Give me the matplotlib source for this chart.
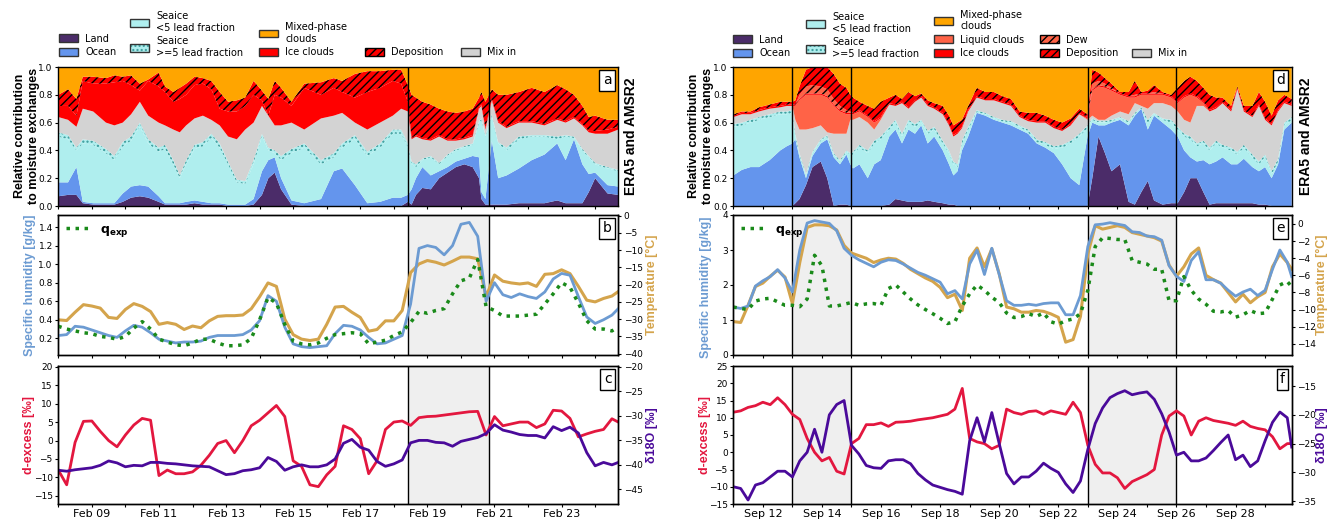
"""
Moisture-source contributions (ERA5 and AMSR2) with humidity,
temperature and stable water isotope time series for the
February case (left column) and the September case (right column).
"""

import numpy as np
import pandas as pd
import matplotlib.pyplot as plt
import matplotlib.dates as mdates
from matplotlib.patches import Patch

# ==========================================================
# Data: February case
# ==========================================================

# stacked contributions, cumulative tops of each layer (day of month)
feb_stack_day = [8.00, 8.29, 8.54, 8.73, 9.04, 9.42, 9.67, 9.92, 10.17, 10.43,
                 10.68, 10.99, 11.18, 11.43, 11.62, 11.81, 12.06, 12.31, 12.56, 12.81,
                 13.06, 13.32, 13.57, 13.82, 14.07, 14.26, 14.45, 14.64, 14.95, 15.33,
                 15.83, 16.21, 16.46, 16.84, 17.21, 17.59, 17.97, 18.22, 18.42, 18.53,
                 18.66, 18.85, 19.10, 19.35, 19.60, 19.85, 20.10, 20.35, 20.54, 20.61,
                 20.73, 20.92, 21.11, 21.36, 21.73, 22.11, 22.49, 22.87, 23.12, 23.37,
                 23.62, 23.81, 24.00, 24.37, 24.69]
feb_land = [0.07, 0.08, 0.08, 0.02, 0.01, 0.01, 0.01, 0.03, 0.06, 0.07,
            0.06, 0.03, 0.01, 0.01, 0.01, 0.01, 0.02, 0.01, 0.01, 0.01,
            0.00, 0.00, 0.00, 0.01, 0.08, 0.20, 0.24, 0.12, 0.01, 0.00,
            0.00, 0.00, 0.00, 0.00, 0.00, 0.00, 0.00, 0.00, 0.03, 0.01,
            0.08, 0.13, 0.12, 0.20, 0.24, 0.28, 0.30, 0.28, 0.20, 0.05,
            0.01, 0.01, 0.01, 0.01, 0.02, 0.02, 0.02, 0.04, 0.02, 0.02,
            0.02, 0.10, 0.20, 0.09, 0.08]
feb_ocean = [0.17, 0.17, 0.28, 0.03, 0.02, 0.02, 0.02, 0.09, 0.14, 0.15,
             0.14, 0.07, 0.02, 0.02, 0.02, 0.03, 0.04, 0.03, 0.02, 0.02,
             0.01, 0.01, 0.01, 0.05, 0.25, 0.33, 0.35, 0.20, 0.04, 0.02,
             0.05, 0.25, 0.27, 0.15, 0.02, 0.03, 0.06, 0.06, 0.08, 0.12,
             0.20, 0.28, 0.22, 0.25, 0.28, 0.32, 0.34, 0.36, 0.35, 0.10,
             0.05, 0.47, 0.20, 0.22, 0.27, 0.33, 0.37, 0.45, 0.33, 0.48,
             0.30, 0.23, 0.24, 0.15, 0.14]
feb_sea_lt5 = [0.50, 0.48, 0.40, 0.45, 0.44, 0.38, 0.33, 0.43, 0.47, 0.57,
               0.45, 0.39, 0.41, 0.30, 0.20, 0.30, 0.41, 0.43, 0.49, 0.42,
               0.30, 0.17, 0.16, 0.30, 0.50, 0.40, 0.38, 0.33, 0.38, 0.42,
               0.30, 0.35, 0.42, 0.48, 0.36, 0.42, 0.52, 0.52, 0.42, 0.30,
               0.28, 0.33, 0.35, 0.30, 0.36, 0.40, 0.42, 0.44, 0.60, 0.62,
               0.50, 0.65, 0.45, 0.40, 0.48, 0.50, 0.50, 0.48, 0.50, 0.49,
               0.40, 0.35, 0.30, 0.27, 0.25]
feb_sea_ge5 = [0.53, 0.51, 0.42, 0.48, 0.47, 0.41, 0.36, 0.46, 0.50, 0.60,
               0.48, 0.42, 0.44, 0.33, 0.22, 0.33, 0.44, 0.46, 0.52, 0.45,
               0.32, 0.19, 0.18, 0.33, 0.52, 0.42, 0.40, 0.36, 0.41, 0.45,
               0.33, 0.38, 0.45, 0.51, 0.39, 0.45, 0.55, 0.55, 0.45, 0.32,
               0.30, 0.34, 0.36, 0.31, 0.37, 0.41, 0.43, 0.45, 0.61, 0.63,
               0.51, 0.66, 0.46, 0.42, 0.50, 0.51, 0.51, 0.50, 0.51, 0.50,
               0.41, 0.36, 0.31, 0.28, 0.26]
feb_mixin = [0.64, 0.62, 0.57, 0.70, 0.68, 0.60, 0.58, 0.60, 0.66, 0.75,
             0.65, 0.60, 0.58, 0.55, 0.53, 0.58, 0.63, 0.65, 0.62, 0.58,
             0.50, 0.48, 0.55, 0.60, 0.72, 0.65, 0.58, 0.58, 0.60, 0.55,
             0.63, 0.65, 0.67, 0.60, 0.55, 0.60, 0.65, 0.70, 0.68, 0.48,
             0.50, 0.48, 0.47, 0.50, 0.47, 0.47, 0.48, 0.50, 0.70, 0.72,
             0.55, 0.76, 0.60, 0.56, 0.60, 0.60, 0.58, 0.62, 0.60, 0.63,
             0.58, 0.53, 0.52, 0.52, 0.55]
feb_ice = [0.72, 0.72, 0.65, 0.90, 0.88, 0.88, 0.89, 0.90, 0.87, 0.83,
           0.90, 0.86, 0.82, 0.75, 0.77, 0.80, 0.87, 0.88, 0.84, 0.70,
           0.68, 0.68, 0.72, 0.80, 0.76, 0.65, 0.80, 0.78, 0.72, 0.85,
           0.80, 0.85, 0.82, 0.78, 0.82, 0.85, 0.90, 0.88, 0.75, 0.49,
           0.51, 0.49, 0.48, 0.51, 0.48, 0.48, 0.49, 0.51, 0.71, 0.73,
           0.56, 0.77, 0.61, 0.57, 0.61, 0.61, 0.59, 0.63, 0.61, 0.64,
           0.59, 0.54, 0.54, 0.55, 0.57]
feb_depo = [0.80, 0.84, 0.77, 0.93, 0.93, 0.92, 0.94, 0.93, 0.94, 0.88,
            0.91, 0.96, 0.86, 0.82, 0.85, 0.88, 0.93, 0.92, 0.90, 0.82,
            0.75, 0.76, 0.78, 0.90, 0.83, 0.77, 0.90, 0.85, 0.75, 0.88,
            0.89, 0.92, 0.90, 0.95, 0.97, 0.97, 0.98, 0.98, 0.87, 0.80,
            0.78, 0.75, 0.73, 0.70, 0.68, 0.67, 0.68, 0.70, 0.78, 0.82,
            0.75, 0.84, 0.80, 0.80, 0.82, 0.85, 0.82, 0.87, 0.84, 0.80,
            0.72, 0.64, 0.65, 0.62, 0.62]

# time series (day of month)
feb_day = [8.00, 8.25, 8.50, 8.75, 9.00, 9.25, 9.50, 9.75, 10.00, 10.25,
           10.50, 10.75, 11.00, 11.25, 11.50, 11.75, 12.00, 12.25, 12.50, 12.75,
           13.00, 13.25, 13.50, 13.75, 14.00, 14.25, 14.50, 14.75, 15.00, 15.25,
           15.50, 15.75, 16.00, 16.25, 16.50, 16.75, 17.00, 17.25, 17.50, 17.75,
           18.00, 18.25, 18.50, 18.75, 19.00, 19.25, 19.50, 19.75, 20.00, 20.25,
           20.50, 20.75, 21.00, 21.25, 21.50, 21.75, 22.00, 22.25, 22.50, 22.75,
           23.00, 23.25, 23.50, 23.75, 24.00, 24.25, 24.50, 24.69]
feb_q = [0.23, 0.24, 0.33, 0.32, 0.29, 0.26, 0.23, 0.21, 0.28, 0.34,
         0.32, 0.26, 0.19, 0.17, 0.15, 0.16, 0.16, 0.17, 0.21, 0.23,
         0.23, 0.23, 0.24, 0.29, 0.39, 0.66, 0.60, 0.32, 0.14, 0.11,
         0.10, 0.11, 0.12, 0.25, 0.34, 0.33, 0.29, 0.21, 0.14, 0.15,
         0.19, 0.23, 0.57, 1.17, 1.20, 1.18, 1.10, 1.20, 1.43, 1.45,
         1.30, 0.60, 0.80, 0.67, 0.64, 0.68, 0.65, 0.63, 0.70, 0.84,
         0.90, 0.88, 0.65, 0.43, 0.36, 0.40, 0.45, 0.52]
feb_temp = [-30.2, -30.4, -28.0, -25.8, -26.2, -26.8, -29.5, -29.8, -27.2, -25.5,
            -26.3, -27.8, -31.5, -31.0, -31.5, -33.0, -32.0, -32.5, -30.5, -29.2,
            -29.0, -29.0, -28.8, -27.0, -23.5, -19.5, -20.5, -30.0, -34.5, -35.8,
            -36.2, -35.8, -31.5, -26.5, -26.3, -28.0, -29.5, -33.5, -33.0, -30.5,
            -30.5, -27.5, -16.5, -14.0, -13.0, -13.5, -14.3, -13.2, -12.0, -12.0,
            -12.5, -23.5, -17.2, -19.0, -19.5, -19.8, -19.5, -20.5, -17.0, -16.8,
            -15.7, -16.8, -20.5, -24.5, -25.0, -24.0, -23.3, -22.0]
feb_qexp = [0.33, 0.30, 0.28, 0.26, 0.25, 0.22, 0.21, 0.19, 0.22, 0.31,
            0.38, 0.30, 0.19, 0.16, 0.13, 0.12, 0.15, 0.19, 0.19, 0.15,
            0.12, 0.12, 0.13, 0.20, 0.40, 0.64, 0.58, 0.35, 0.17, 0.14,
            0.13, 0.15, 0.20, 0.24, 0.25, 0.26, 0.25, 0.14, 0.16, 0.18,
            0.23, 0.27, 0.37, 0.49, 0.47, 0.50, 0.52, 0.68, 0.82, 0.85,
            1.05, 0.54, 0.50, 0.44, 0.44, 0.44, 0.45, 0.46, 0.57, 0.68,
            0.80, 0.75, 0.58, 0.39, 0.30, 0.30, 0.28, 0.32]
feb_dexcess = [-8.0, -12.0, -0.5, 5.2, 5.3, 2.5, 0.0, -1.7, 1.5, 4.2,
               6.0, 5.5, -9.5, -8.0, -9.0, -9.0, -8.5, -6.7, -4.0, -0.8,
               0.0, -3.3, 0.0, 4.0, 5.5, 7.5, 9.5, 6.5, -5.5, -7.0,
               -12.0, -12.5, -9.3, -7.0, 4.0, 3.0, 0.5, -9.0, -5.5, 3.0,
               5.0, 5.3, 4.1, 6.2, 6.5, 6.6, 6.9, 7.2, 7.5, 7.8,
               7.9, 1.5, 6.5, 4.0, 4.5, 5.0, 5.0, 3.5, 4.5, 8.2,
               8.0, 6.0, 1.0, 1.8, 2.5, 3.0, 5.9, 5.0]
feb_d18o = [-41.1, -41.3, -41.0, -40.8, -40.6, -40.1, -39.2, -39.6, -40.4, -40.1,
            -40.2, -39.5, -39.5, -39.7, -39.8, -40.0, -40.2, -40.3, -40.4, -41.2,
            -42.0, -41.8, -41.2, -41.0, -40.6, -38.5, -39.3, -41.1, -40.4, -40.0,
            -40.4, -40.4, -40.0, -38.8, -35.6, -34.8, -36.4, -37.0, -39.3, -40.3,
            -39.8, -39.0, -35.5, -35.0, -35.0, -35.4, -35.5, -36.2, -35.2, -34.8,
            -34.4, -33.6, -31.8, -32.9, -33.3, -33.8, -34.0, -34.0, -34.5, -32.2,
            -33.0, -32.3, -33.5, -37.5, -40.2, -39.5, -40.0, -39.5]

feb_xlim = (8.0, 24.69)
feb_events = [(18.43, 20.85)]

# ==========================================================
# Data: September case
# ==========================================================

sep_stack_day = [11.00, 11.29, 11.58, 11.87, 12.23, 12.59, 12.81, 13.00, 13.10, 13.24,
                 13.46, 13.68, 13.96, 14.18, 14.40, 14.61, 14.83, 14.96, 15.05, 15.27,
                 15.55, 15.77, 15.99, 16.28, 16.49, 16.71, 16.93, 17.15, 17.36, 17.58,
                 17.80, 18.09, 18.30, 18.45, 18.59, 18.74, 18.95, 19.24, 19.53, 19.82,
                 20.11, 20.40, 20.69, 20.98, 21.27, 21.56, 21.85, 22.13, 22.42, 22.71,
                 22.99, 23.15, 23.36, 23.58, 23.80, 24.09, 24.38, 24.59, 24.81, 25.03,
                 25.24, 25.53, 25.82, 26.04, 26.26, 26.47, 26.69, 26.91, 27.12, 27.34,
                 27.56, 27.85, 28.06, 28.28, 28.57, 28.79, 29.00, 29.22, 29.44, 29.65,
                 29.90]
sep_land = [0.00, 0.00, 0.00, 0.00, 0.00, 0.00, 0.00, 0.00, 0.02, 0.05,
            0.15, 0.28, 0.32, 0.20, 0.00, 0.01, 0.01, 0.00, 0.00, 0.00,
            0.00, 0.00, 0.00, 0.01, 0.05, 0.04, 0.03, 0.03, 0.03, 0.04,
            0.03, 0.02, 0.01, 0.01, 0.00, 0.00, 0.00, 0.00, 0.00, 0.00,
            0.00, 0.00, 0.00, 0.00, 0.00, 0.00, 0.00, 0.00, 0.00, 0.00,
            0.00, 0.20, 0.50, 0.38, 0.25, 0.30, 0.03, 0.01, 0.10, 0.18,
            0.04, 0.01, 0.02, 0.02, 0.10, 0.20, 0.20, 0.10, 0.01, 0.02,
            0.02, 0.02, 0.02, 0.02, 0.02, 0.01, 0.01, 0.00, 0.00, 0.00,
            0.00]
sep_ocean = [0.22, 0.26, 0.28, 0.28, 0.33, 0.40, 0.43, 0.45, 0.48, 0.35,
             0.20, 0.36, 0.45, 0.48, 0.35, 0.30, 0.37, 0.30, 0.27, 0.30,
             0.20, 0.30, 0.33, 0.50, 0.55, 0.45, 0.55, 0.52, 0.58, 0.45,
             0.50, 0.40, 0.30, 0.22, 0.25, 0.40, 0.50, 0.67, 0.65, 0.62,
             0.60, 0.58, 0.55, 0.52, 0.45, 0.42, 0.38, 0.30, 0.20, 0.15,
             0.50, 0.60, 0.58, 0.58, 0.60, 0.62, 0.58, 0.65, 0.70, 0.55,
             0.65, 0.60, 0.55, 0.50, 0.40, 0.35, 0.32, 0.33, 0.30, 0.32,
             0.35, 0.30, 0.30, 0.34, 0.28, 0.25, 0.28, 0.20, 0.30, 0.55,
             0.60]
sep_sea_lt5 = [0.57, 0.58, 0.60, 0.62, 0.64, 0.66, 0.66, 0.67, 0.50, 0.37,
               0.22, 0.38, 0.47, 0.50, 0.37, 0.32, 0.39, 0.37, 0.37, 0.42,
               0.38, 0.45, 0.48, 0.55, 0.60, 0.50, 0.60, 0.57, 0.60, 0.52,
               0.55, 0.45, 0.38, 0.30, 0.28, 0.45, 0.55, 0.68, 0.66, 0.63,
               0.61, 0.60, 0.57, 0.53, 0.46, 0.44, 0.41, 0.42, 0.45, 0.50,
               0.56, 0.62, 0.60, 0.60, 0.61, 0.63, 0.60, 0.66, 0.70, 0.60,
               0.66, 0.62, 0.60, 0.55, 0.50, 0.48, 0.43, 0.45, 0.40, 0.45,
               0.42, 0.40, 0.37, 0.42, 0.35, 0.30, 0.35, 0.23, 0.32, 0.58,
               0.62]
sep_sea_ge5 = [0.59, 0.60, 0.62, 0.64, 0.66, 0.68, 0.68, 0.69, 0.52, 0.38,
               0.23, 0.39, 0.48, 0.51, 0.38, 0.33, 0.40, 0.38, 0.39, 0.44,
               0.40, 0.47, 0.50, 0.57, 0.62, 0.52, 0.62, 0.59, 0.62, 0.54,
               0.57, 0.47, 0.40, 0.32, 0.30, 0.47, 0.57, 0.69, 0.67, 0.64,
               0.62, 0.61, 0.58, 0.55, 0.48, 0.46, 0.43, 0.44, 0.47, 0.52,
               0.58, 0.63, 0.61, 0.61, 0.62, 0.64, 0.61, 0.67, 0.71, 0.62,
               0.67, 0.63, 0.62, 0.57, 0.52, 0.50, 0.45, 0.47, 0.42, 0.47,
               0.44, 0.42, 0.39, 0.44, 0.37, 0.32, 0.37, 0.25, 0.34, 0.60,
               0.64]
sep_mixin = [0.64, 0.66, 0.66, 0.68, 0.70, 0.71, 0.72, 0.72, 0.62, 0.55,
             0.55, 0.56, 0.58, 0.53, 0.52, 0.52, 0.52, 0.62, 0.62, 0.64,
             0.60, 0.55, 0.62, 0.73, 0.72, 0.74, 0.70, 0.75, 0.78, 0.72,
             0.70, 0.66, 0.58, 0.50, 0.52, 0.56, 0.68, 0.78, 0.76, 0.76,
             0.74, 0.72, 0.64, 0.61, 0.60, 0.60, 0.56, 0.54, 0.58, 0.66,
             0.62, 0.65, 0.62, 0.62, 0.65, 0.68, 0.66, 0.74, 0.72, 0.70,
             0.74, 0.74, 0.72, 0.68, 0.62, 0.60, 0.72, 0.72, 0.68, 0.70,
             0.74, 0.68, 0.84, 0.68, 0.64, 0.72, 0.62, 0.58, 0.68, 0.74,
             0.72]
sep_liquid = [0.64, 0.66, 0.66, 0.68, 0.70, 0.71, 0.72, 0.72, 0.72, 0.76,
              0.80, 0.80, 0.80, 0.78, 0.72, 0.68, 0.66, 0.66, 0.66, 0.68,
              0.64, 0.60, 0.63, 0.73, 0.72, 0.74, 0.70, 0.75, 0.78, 0.72,
              0.70, 0.66, 0.58, 0.50, 0.52, 0.56, 0.68, 0.78, 0.76, 0.76,
              0.74, 0.72, 0.64, 0.61, 0.60, 0.60, 0.56, 0.54, 0.58, 0.66,
              0.63, 0.83, 0.86, 0.85, 0.83, 0.80, 0.78, 0.78, 0.80, 0.80,
              0.80, 0.80, 0.78, 0.74, 0.78, 0.80, 0.78, 0.74, 0.68, 0.70,
              0.74, 0.68, 0.84, 0.68, 0.64, 0.72, 0.62, 0.58, 0.68, 0.74,
              0.72]
sep_ice = [0.65, 0.67, 0.67, 0.69, 0.71, 0.72, 0.73, 0.73, 0.73, 0.77,
           0.81, 0.81, 0.81, 0.79, 0.73, 0.69, 0.67, 0.67, 0.67, 0.69,
           0.65, 0.61, 0.64, 0.74, 0.73, 0.75, 0.71, 0.76, 0.79, 0.73,
           0.71, 0.67, 0.59, 0.51, 0.53, 0.57, 0.69, 0.79, 0.77, 0.77,
           0.75, 0.73, 0.65, 0.62, 0.61, 0.61, 0.57, 0.55, 0.59, 0.67,
           0.64, 0.84, 0.87, 0.86, 0.84, 0.81, 0.79, 0.79, 0.81, 0.81,
           0.81, 0.81, 0.79, 0.75, 0.79, 0.81, 0.79, 0.75, 0.69, 0.71,
           0.75, 0.69, 0.85, 0.69, 0.65, 0.73, 0.63, 0.59, 0.69, 0.75,
           0.73]
sep_dew = [0.65, 0.67, 0.67, 0.69, 0.71, 0.72, 0.73, 0.73, 0.73, 0.80,
           0.86, 0.87, 0.86, 0.84, 0.77, 0.72, 0.69, 0.68, 0.67, 0.69,
           0.65, 0.61, 0.64, 0.74, 0.73, 0.75, 0.71, 0.76, 0.79, 0.73,
           0.71, 0.67, 0.59, 0.51, 0.53, 0.57, 0.69, 0.79, 0.77, 0.77,
           0.75, 0.73, 0.65, 0.62, 0.61, 0.61, 0.57, 0.55, 0.59, 0.67,
           0.64, 0.88, 0.90, 0.88, 0.85, 0.81, 0.79, 0.80, 0.81, 0.81,
           0.82, 0.81, 0.79, 0.75, 0.79, 0.81, 0.79, 0.75, 0.69, 0.71,
           0.75, 0.69, 0.85, 0.69, 0.65, 0.73, 0.63, 0.59, 0.69, 0.75,
           0.73]
sep_depo = [0.66, 0.68, 0.68, 0.71, 0.73, 0.75, 0.75, 0.75, 0.76, 0.86,
            0.98, 1.00, 1.00, 1.00, 0.95, 0.88, 0.85, 0.80, 0.78, 0.75,
            0.72, 0.70, 0.75, 0.78, 0.80, 0.77, 0.82, 0.79, 0.81, 0.76,
            0.74, 0.72, 0.65, 0.58, 0.60, 0.62, 0.72, 0.85, 0.82, 0.82,
            0.79, 0.77, 0.68, 0.67, 0.67, 0.65, 0.62, 0.60, 0.63, 0.70,
            0.66, 0.98, 0.96, 0.92, 0.88, 0.82, 0.82, 0.90, 0.82, 0.83,
            0.87, 0.82, 0.80, 0.85, 0.90, 0.93, 0.90, 0.85, 0.80, 0.78,
            0.78, 0.72, 0.86, 0.72, 0.72, 0.82, 0.75, 0.65, 0.76, 0.80,
            0.77]

sep_day = [11.00, 11.25, 11.50, 11.75, 12.00, 12.25, 12.50, 12.75, 13.00, 13.25,
           13.50, 13.75, 14.00, 14.25, 14.50, 14.75, 15.00, 15.25, 15.50, 15.75,
           16.00, 16.25, 16.50, 16.75, 17.00, 17.25, 17.50, 17.75, 18.00, 18.25,
           18.50, 18.75, 19.00, 19.25, 19.50, 19.75, 20.00, 20.25, 20.50, 20.75,
           21.00, 21.25, 21.50, 21.75, 22.00, 22.25, 22.50, 22.75, 23.00, 23.25,
           23.50, 23.75, 24.00, 24.25, 24.50, 24.75, 25.00, 25.25, 25.50, 25.75,
           26.00, 26.25, 26.50, 26.75, 27.00, 27.25, 27.50, 27.75, 28.00, 28.25,
           28.50, 28.75, 29.00, 29.25, 29.50, 29.75, 29.90]
sep_q = [1.37, 1.33, 1.40, 1.97, 2.12, 2.24, 2.44, 2.20, 1.80, 3.00,
         3.77, 3.84, 3.80, 3.76, 3.55, 3.05, 2.85, 2.72, 2.62, 2.52,
         2.65, 2.72, 2.70, 2.60, 2.48, 2.36, 2.28, 2.18, 2.08, 1.75,
         1.84, 1.60, 2.60, 3.00, 2.30, 3.05, 2.30, 1.55, 1.42, 1.42,
         1.45, 1.42, 1.47, 1.49, 1.49, 1.15, 1.15, 1.70, 3.10, 3.72,
         3.74, 3.78, 3.74, 3.70, 3.52, 3.50, 3.40, 3.38, 3.28, 2.55,
         2.25, 2.10, 2.70, 2.95, 2.15, 2.15, 2.05, 1.85, 1.68, 1.80,
         1.88, 1.70, 1.85, 2.45, 3.00, 2.65, 2.24]
sep_temp = [-11.4, -11.5, -9.5, -7.3, -6.9, -6.1, -5.4, -6.2, -9.3, -4.5,
            -0.4, -0.1, -0.1, -0.2, -0.7, -2.5, -3.4, -3.7, -4.0, -4.5,
            -4.2, -4.0, -4.1, -4.6, -5.3, -5.8, -6.3, -6.7, -7.4, -8.6,
            -8.2, -10.1, -4.0, -2.8, -5.0, -2.9, -5.8, -9.7, -9.9, -10.3,
            -10.3, -10.1, -10.2, -10.5, -10.9, -13.8, -13.5, -10.8, -3.5, -0.2,
            -0.6, -0.4, -0.2, -0.4, -1.0, -1.2, -1.4, -1.6, -2.0, -4.8,
            -6.1, -5.0, -3.5, -2.8, -6.0, -6.5, -6.9, -8.0, -9.1, -8.2,
            -9.2, -8.5, -8.0, -5.0, -3.5, -4.5, -5.3]
sep_qexp = [1.37, 1.33, 1.30, 1.54, 1.60, 1.62, 1.52, 1.42, 1.42, 1.38,
            1.60, 2.85, 2.55, 1.40, 1.40, 1.45, 1.50, 1.42, 1.46, 1.47,
            1.42, 1.90, 2.00, 1.80, 1.60, 1.43, 1.30, 1.18, 1.05, 0.90,
            0.95, 1.40, 1.75, 2.00, 1.85, 1.65, 1.50, 1.20, 1.07, 1.10,
            1.18, 1.10, 1.20, 0.95, 0.88, 0.98, 1.03, 1.18, 1.85, 3.10,
            3.35, 3.33, 3.30, 3.30, 2.70, 2.65, 2.60, 2.45, 2.45, 1.55,
            1.55, 2.24, 1.85, 1.60, 1.45, 1.25, 1.23, 1.27, 1.08, 1.15,
            1.27, 1.18, 1.20, 1.60, 2.00, 2.10, 1.95]
sep_dexcess = [11.6, 12.0, 13.0, 13.5, 14.5, 13.8, 15.8, 13.8, 11.0, 9.5,
               4.0, 0.0, -2.5, -1.5, -5.5, -6.3, 2.5, 4.0, 8.0, 8.0,
               8.5, 7.5, 8.7, 8.8, 9.0, 9.4, 9.7, 10.0, 10.5, 11.0,
               12.5, 18.5, 4.0, 3.0, 2.5, 1.0, 2.0, 12.5, 11.5, 11.0,
               11.8, 12.0, 11.0, 12.0, 11.5, 11.0, 14.5, 11.5, 2.0, -3.5,
               -6.0, -6.0, -7.4, -10.5, -8.5, -7.5, -6.5, -5.0, 5.0, 10.5,
               12.0, 10.5, 5.0, 9.0, 10.0, 9.2, 8.8, 8.4, 7.8, 9.0,
               7.5, 6.9, 6.5, 4.5, 1.0, 2.5, 2.5]
sep_d18o = [-32.5, -32.8, -34.8, -32.2, -31.8, -30.8, -29.8, -29.8, -30.8, -28.0,
            -26.5, -22.5, -26.5, -20.0, -18.2, -17.5, -25.3, -26.8, -28.8, -29.2,
            -29.3, -28.0, -27.8, -27.8, -28.5, -30.2, -31.3, -32.2, -32.6, -33.0,
            -33.3, -33.8, -24.5, -20.5, -24.7, -19.6, -25.0, -30.2, -32.0, -30.8,
            -30.8, -29.8, -28.4, -29.3, -30.0, -32.0, -33.5, -31.5, -26.0, -21.5,
            -18.8, -17.0, -16.3, -15.8, -16.5, -16.2, -16.0, -17.3, -19.8, -23.0,
            -27.0, -26.5, -28.0, -28.0, -27.5, -26.2, -24.8, -23.5, -27.8, -27.0,
            -29.0, -28.0, -24.5, -21.3, -19.5, -20.5, -25.6]

sep_xlim = (11.0, 29.9)
sep_events = [(13.0, 15.0), (23.0, 26.0)]

# ==========================================================
# Style
# ==========================================================

W, H = 1329, 519

C_LAND = "#4b2c69"
C_OCEAN = "#6495ed"
C_SEA = "#afeeee"
C_DOTS = "#3a9a9a"
C_MIXPH = "#ffa500"
C_LIQ = "#ff6347"
C_ICE = "#ff0000"
C_MIXIN = "#d3d3d3"

C_Q = "#6c9bd2"
C_T = "#d4a44c"
C_QEXP = "#1a8a1a"
C_DX = "#e3173f"
C_D18O = "#4a0a9a"
C_SHADE = "#efefef"

HATCH = "////"
plt.rcParams["hatch.linewidth"] = 1.0
plt.rcParams["axes.linewidth"] = 1.0

YTICK = dict(labelsize=6.5, length=2.5, width=0.8, pad=1.5)

fig = plt.figure(figsize=(W / 100, H / 100), dpi=100)


def to_dates(days, month):
    days = np.asarray(days, dtype=float)
    return pd.Timestamp(2020, month, 1) + pd.to_timedelta(days - 1, unit="D")


def px_axes(x0, x1, y0, y1):
    # axes from pixel box (top-left origin)
    return fig.add_axes([x0 / W, 1 - y1 / H, (x1 - x0) / W, (y1 - y0) / H])


def side_label(x_px, y_px, text, color="black", size=9.0):
    fig.text(x_px / W, 1 - y_px / H, text, rotation=90, ha="center",
             va="center", color=color, fontsize=size, fontweight="bold",
             family="Liberation Sans", linespacing=1.15)


def panel_letter(ax, letter):
    ax.text(0.988, 0.955, letter, transform=ax.transAxes, ha="right",
            va="top", fontsize=10, zorder=20,
            bbox=dict(boxstyle="square,pad=0.25", fc="white", ec="black", lw=1))


def format_time_axis(ax, month, xlim, show_labels):
    ax.set_xlim(to_dates([xlim[0]], month)[0], to_dates([xlim[1]], month)[0])
    if month == 2:
        major = mdates.DayLocator(bymonthday=range(1, 32, 2))
    else:
        major = mdates.DayLocator(bymonthday=range(2, 32, 2))
    ax.xaxis.set_major_locator(major)
    ax.xaxis.set_minor_locator(mdates.DayLocator())
    ax.xaxis.set_major_formatter(mdates.DateFormatter("%b %d"))
    ax.tick_params(axis="x", which="both", length=2.5, width=0.8, pad=1.0,
                   labelsize=8, labelbottom=show_labels)


def draw_stack(ax, days, month, layers):
    t = to_dates(days, month)
    tops = np.maximum.accumulate(np.vstack([lay[0] for lay in layers]), axis=0)
    tops = np.clip(tops, 0, 1)
    lower = np.zeros(len(t))
    for top, (_, fc, ec, hatch) in zip(tops, layers):
        ax.fill_between(t, lower, top, facecolor=fc, edgecolor=ec,
                        hatch=hatch, linewidth=0)
        lower = top
    ax.fill_between(t, lower, 1.0, facecolor=C_MIXPH, linewidth=0)
    ax.set_ylim(0, 1)
    ax.set_yticks(np.arange(0, 1.01, 0.2))
    ax.tick_params(axis="y", **YTICK)


def column_legend(entries, x_px, y_px):
    handles = [e[0] for e in entries]
    labels = [e[1] for e in entries]
    fig.legend(handles, labels, loc="lower left",
               bbox_to_anchor=(x_px / W, 1 - y_px / H),
               frameon=False, fontsize=7, borderpad=0, borderaxespad=0,
               handlelength=2.0, handleheight=0.85, handletextpad=0.7,
               labelspacing=0.35)


# ==========================================================
# Column geometry (pixels)
# ==========================================================

cols = {
    "feb": (58.3, 618.3),
    "sep": (733.3, 1291.7),
}
rows = [(67, 206), (215, 355), (366, 504)]

# ==========================================================
# Panels
# ==========================================================

feb_layers = [
    (feb_land, C_LAND, "none", None),
    (feb_ocean, C_OCEAN, "none", None),
    (feb_sea_lt5, C_SEA, "none", None),
    (feb_sea_ge5, C_SEA, C_DOTS, "...."),
    (feb_mixin, C_MIXIN, "none", None),
    (feb_ice, C_ICE, "none", None),
    (feb_depo, C_ICE, "black", HATCH),
]
sep_layers = [
    (sep_land, C_LAND, "none", None),
    (sep_ocean, C_OCEAN, "none", None),
    (sep_sea_lt5, C_SEA, "none", None),
    (sep_sea_ge5, C_SEA, C_DOTS, "...."),
    (sep_mixin, C_MIXIN, "none", None),
    (sep_liquid, C_LIQ, "none", None),
    (sep_ice, C_ICE, "none", None),
    (sep_dew, C_LIQ, "black", HATCH),
    (sep_depo, C_ICE, "black", HATCH),
]

setups = [
    ("feb", 2, feb_stack_day, feb_layers, feb_xlim, feb_events, "abc"),
    ("sep", 9, sep_stack_day, sep_layers, sep_xlim, sep_events, "def"),
]

line_data = {
    "feb": (feb_day, feb_q, feb_temp, feb_qexp, feb_dexcess, feb_d18o),
    "sep": (sep_day, sep_q, sep_temp, sep_qexp, sep_dexcess, sep_d18o),
}

for key, month, sday, layers, xlim, events, letters in setups:
    x0, x1 = cols[key]
    day, q, temp, qexp, dx, d18o = line_data[key]
    t = to_dates(day, month)

    # ---- stacked panel ----
    ax = px_axes(x0, x1, *rows[0])
    draw_stack(ax, sday, month, layers)
    for start, end in events:
        for d in (start, end):
            ax.axvline(to_dates([d], month)[0], color="black", lw=1, zorder=5)
    format_time_axis(ax, month, xlim, False)
    panel_letter(ax, letters[0])

    # ---- humidity / temperature ----
    ax_q = px_axes(x0, x1, *rows[1])
    ax_t = ax_q.twinx()
    ax_t.set_zorder(ax_q.get_zorder() - 1)
    ax_q.patch.set_visible(False)
    for start, end in events:
        ax_t.axvspan(to_dates([start], month)[0], to_dates([end], month)[0],
                     color=C_SHADE, lw=0)
        for d in (start, end):
            ax_t.axvline(to_dates([d], month)[0], color="black", lw=1)
    ax_t.plot(t, temp, color=C_T, lw=2.2, solid_joinstyle="round")
    ax_q.plot(t, q, color=C_Q, lw=2.0, solid_joinstyle="round")
    (qexp_line,) = ax_q.plot(t, qexp, color=C_QEXP, lw=2.5, ls=(0, (1, 1.6)))
    ax_q.legend([qexp_line], [r"$\mathbf{q_{exp}}$"], loc="upper left",
                frameon=False, fontsize=9, handlelength=2.2,
                handletextpad=0.5, borderaxespad=0.2)
    if key == "feb":
        ax_q.set_ylim(0.02, 1.53)
        ax_q.set_yticks(np.arange(0.2, 1.41, 0.2))
        ax_t.set_ylim(-40.4, 0.2)
        ax_t.set_yticks(np.arange(-40, 1, 5))
    else:
        ax_q.set_ylim(0, 4)
        ax_q.set_yticks(np.arange(0, 4.1, 1))
        ax_t.set_ylim(-15.3, 1.05)
        ax_t.set_yticks(np.arange(-14, 1, 2))
    ax_q.tick_params(axis="y", **YTICK)
    ax_t.tick_params(axis="y", **YTICK)
    format_time_axis(ax_q, month, xlim, False)
    format_time_axis(ax_t, month, xlim, False)
    panel_letter(ax_q, letters[1])

    # ---- isotopes ----
    ax_d = px_axes(x0, x1, *rows[2])
    ax_o = ax_d.twinx()
    for start, end in events:
        ax_d.axvspan(to_dates([start], month)[0], to_dates([end], month)[0],
                     color=C_SHADE, lw=0)
        for d in (start, end):
            ax_d.axvline(to_dates([d], month)[0], color="black", lw=1)
    ax_d.plot(t, dx, color=C_DX, lw=2.0, solid_joinstyle="round")
    ax_o.plot(t, d18o, color=C_D18O, lw=2.0, solid_joinstyle="round")
    if key == "feb":
        ax_d.set_ylim(-17.2, 20.2)
        ax_d.set_yticks(np.arange(-15, 21, 5))
        ax_o.set_ylim(-48.0, -19.8)
        ax_o.set_yticks(np.arange(-45, -19, 5))
    else:
        ax_d.set_ylim(-15, 25)
        ax_d.set_yticks(np.arange(-15, 26, 5))
        ax_o.set_ylim(-35.5, -11.5)
        ax_o.set_yticks(np.arange(-35, -14, 5))
    ax_d.tick_params(axis="y", **YTICK)
    ax_o.tick_params(axis="y", **YTICK)
    format_time_axis(ax_d, month, xlim, True)
    format_time_axis(ax_o, month, xlim, True)
    panel_letter(ax_o, letters[2])

# ==========================================================
# Axis titles
# ==========================================================

for xl, xr in ((27, 631), (701, 1306)):
    side_label(xl, 136, "Relative contribution\nto moisture exchanges")
    side_label(xr, 136, "ERA5 and AMSR2", size=10)

side_label(30, 285, "Specific humidity [g/kg]", color=C_Q)
side_label(652, 285, "Temperature [°C]", color=C_T)
side_label(29, 435, "d-excess [‰]", color=C_DX)
side_label(652, 435, "δ18O [‰]", color=C_D18O)

side_label(706, 287, "Specific humidity [g/kg]", color=C_Q)
side_label(1322, 285, "Temperature [°C]", color=C_T)
side_label(705, 435, "d-excess [‰]", color=C_DX)
side_label(1322, 435, "δ18O [‰]", color=C_D18O)

# ==========================================================
# Legends
# ==========================================================

edge = "0.2"
h_land = Patch(fc=C_LAND, ec=edge, lw=1)
h_ocean = Patch(fc=C_OCEAN, ec=edge, lw=1)
h_sea_lt5 = Patch(fc=C_SEA, ec=edge, lw=1)
h_sea_ge5 = (Patch(fc=C_SEA, ec=C_DOTS, hatch="....", lw=0),
             Patch(fc="none", ec=edge, lw=1))
h_mixph = Patch(fc=C_MIXPH, ec=edge, lw=1)
h_liq = Patch(fc=C_LIQ, ec=edge, lw=1)
h_ice = Patch(fc=C_ICE, ec=edge, lw=1)
h_dew = Patch(fc=C_LIQ, ec="black", hatch=HATCH, lw=1)
h_depo = Patch(fc=C_ICE, ec="black", hatch=HATCH, lw=1)
h_mixin = Patch(fc=C_MIXIN, ec=edge, lw=1)

sea_lt5_lbl = "Seaice\n<5 lead fraction"
sea_ge5_lbl = "Seaice\n>=5 lead fraction"
mixph_lbl = "Mixed-phase\nclouds"

column_legend([(h_land, "Land"), (h_ocean, "Ocean")], 59, 57)
column_legend([(h_sea_lt5, sea_lt5_lbl), (h_sea_ge5, sea_ge5_lbl)], 130, 58)
column_legend([(h_mixph, mixph_lbl), (h_ice, "Ice clouds")], 259, 57)
column_legend([(h_depo, "Deposition")], 365, 57)
column_legend([(h_mixin, "Mix in")], 461, 57)

column_legend([(h_land, "Land"), (h_ocean, "Ocean")], 733, 58)
column_legend([(h_sea_lt5, sea_lt5_lbl), (h_sea_ge5, sea_ge5_lbl)], 806, 59)
column_legend([(h_mixph, mixph_lbl), (h_liq, "Liquid clouds"),
               (h_ice, "Ice clouds")], 934, 58)
column_legend([(h_dew, "Dew"), (h_depo, "Deposition")], 1040, 58)
column_legend([(h_mixin, "Mix in")], 1132, 58)

fig.savefig("out.png", dpi=100)
